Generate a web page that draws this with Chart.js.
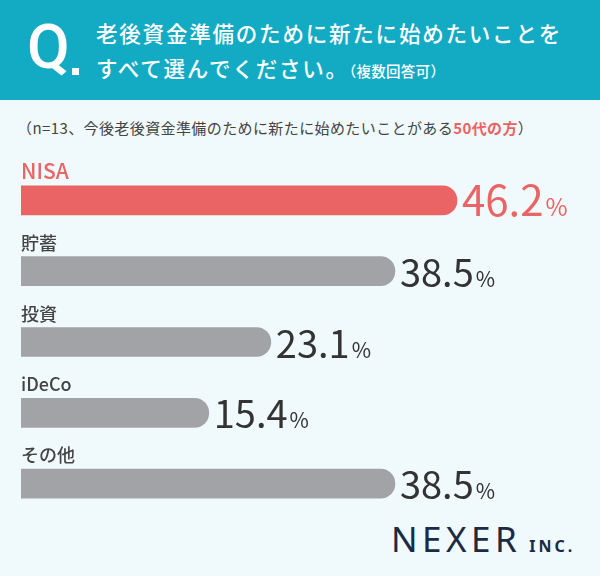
<!DOCTYPE html>
<html lang="ja">
<head>
    <meta charset="UTF-8">
    <title>老後資金準備のために新たに始めたいこと</title>
    <style>
        html, body { margin: 0; padding: 0; }
        body {
            width: 600px; height: 576px; position: relative; overflow: hidden;
            background: #f0f9fb;
            font-family: "Noto Sans CJK JP", "Noto Sans", sans-serif;
        }
        .head {
            position: absolute; left: 0; top: 0; width: 600px; height: 100px;
            background: #13abc4; color: #fff;
        }
        .q {
            position: absolute; left: 27px; top: 12px;
            font: 500 62px Roboto, sans-serif; line-height: 70px;
        }
        .dot {
            position: absolute; left: 72px; top: 68px; width: 7px; height: 7px; background: #fff;
        }
        .title {
            position: absolute; left: 96px; top: 15px; font-size: 21.5px; font-weight: 500;
            line-height: 35px; letter-spacing: 1.8px;
        }
        .title small { font-size: 14.5px; letter-spacing: 0.3px; }
        .sub {
            position: absolute; left: 17px; top: 117px; font-size: 15px; color: #444;
            letter-spacing: 0.4px;
        }
        .sub b { color: #e96363; font-weight: 700; }
        .logo {
            position: absolute; left: 391px; top: 515px; color: #1b2a45;
            font: 400 35px "Noto Sans", sans-serif; letter-spacing: 4.5px;
        }
        .logo span { font-size: 16px; font-weight: 700; letter-spacing: 3px; margin-left: 8px; }
        canvas { position: absolute; left: 0; top: 0; }
    </style>
    <script src="https://cdn.jsdelivr.net/npm/chart.js"></script>
</head>
<body>
    <div class="head">
        <div class="q">Q</div><div class="dot"></div>
        <div class="title">老後資金準備のために新たに始めたいことを<br>すべて選んでください。<small>（複数回答可）</small></div>
    </div>
    <div class="sub">（n=13、今後老後資金準備のために新たに始めたいことがある<b>50代の方</b>）</div>
    <div class="logo">NEXER<span>INC.</span></div>
    <canvas id="myBarChart" width="600" height="576"></canvas>

    <script>
        // Data
        var categories = ['NISA', '貯蓄', '投資', 'iDeCo', 'その他'];
        var percents = [46.2, 38.5, 23.1, 15.4, 38.5];
        var barColors = ['#ea6466', '#a2a3a7', '#a2a3a7', '#a2a3a7', '#a2a3a7'];
        var labelColors = ['#ea6466', '#444444', '#444444', '#444444', '#444444'];
        var valueColors = ['#ea6466', '#333333', '#333333', '#333333', '#333333'];

        // bars don't start at zero on the original, short bars keep a stub
        var axisMin = -7.9;

        // labels above bars and % values at the bar ends
        const barLabelPlugin = {
            id: 'barLabelPlugin',
            afterDatasetsDraw: function(chart) {
                const ctx = chart.ctx;
                const meta = chart.getDatasetMeta(0);
                ctx.save();
                meta.data.forEach(function(bar, i) {
                    const top = bar.y - bar.height / 2;
                    const bottom = bar.y + bar.height / 2;
                    ctx.textBaseline = 'alphabetic';
                    ctx.textAlign = 'left';

                    ctx.fillStyle = labelColors[i];
                    ctx.font = (i === 0 ? '500 21px ' : '500 18px ') + '"Noto Sans CJK JP", sans-serif';
                    ctx.fillText(categories[i], chart.chartArea.left, top - 7);

                    const big = i === 0 ? 42 : 38;
                    ctx.fillStyle = valueColors[i];
                    ctx.font = '400 ' + big + 'px "Noto Sans CJK JP", sans-serif';
                    const num = percents[i].toFixed(1);
                    const x = bar.x + 5;
                    ctx.fillText(num, x, bottom + 1);
                    const w = ctx.measureText(num).width;
                    ctx.font = '400 ' + (i === 0 ? 24 : 21) + 'px "Noto Sans CJK JP", sans-serif';
                    ctx.fillText('%', x + w + 2, bottom + 1);
                });
                ctx.restore();
            }
        };

        var data = {
            labels: categories,
            datasets: [{
                data: percents,
                base: axisMin,
                backgroundColor: barColors,
                barThickness: 29,
                borderRadius: 15,
                borderSkipped: 'start'
            }]
        };

        var options = {
            indexAxis: 'y',
            responsive: false,
            animation: false,
            layout: { padding: { top: 165, bottom: 57, left: 21, right: 2 } },
            plugins: {
                legend: { display: false },
                tooltip: { enabled: false }
            },
            scales: {
                x: { min: axisMin, max: 63.7, display: false },
                y: { display: false }
            }
        };

        var ctx = document.getElementById('myBarChart').getContext('2d');
        new Chart(ctx, {
            type: 'bar',
            data: data,
            options: options,
            plugins: [barLabelPlugin]
        });
    </script>
</body>
</html>
